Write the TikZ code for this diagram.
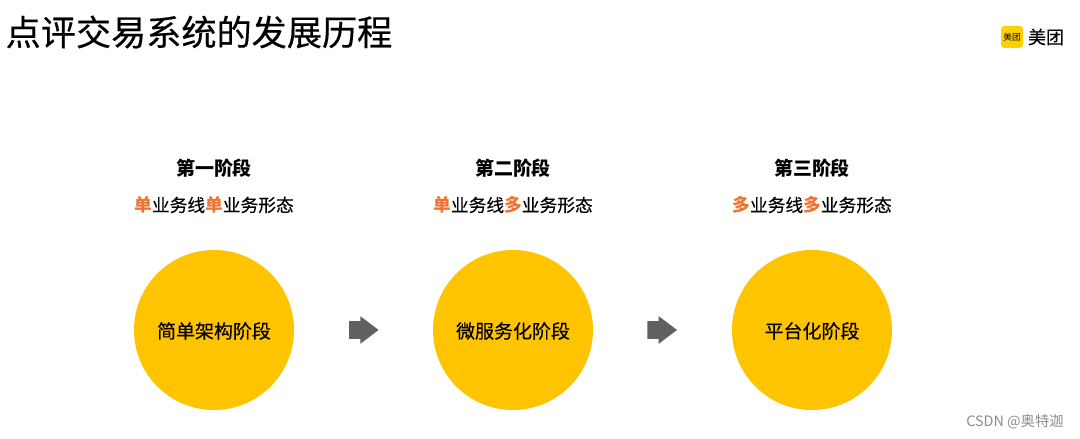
\documentclass[tikz,border=0pt]{standalone}
\usepackage{fontspec}
\setmainfont{Noto Sans CJK SC}
\newfontface\medfont[FakeBold=0.35]{Noto Sans CJK SC}
\usepackage{tikz}
\usetikzlibrary{shapes.arrows}
\definecolor{stageyellow}{RGB}{255,196,0}
\definecolor{logoyellow}{RGB}{255,208,0}
\definecolor{accentorange}{RGB}{240,115,50}
\definecolor{arrowgray}{RGB}{96,96,96}
\newcommand{\hl}[1]{{\bfseries\color{accentorange}#1}}
\tikzset{
    stagecircle/.style={circle, fill=stageyellow, minimum size=4cm, inner sep=0pt},
    stagelabel/.style={font=\fontsize{13.5pt}{16pt}\selectfont\medfont},
    stagetitle/.style={font=\fontsize{13.5pt}{16pt}\selectfont\bfseries},
    stagesub/.style={font=\fontsize{12.6pt}{15pt}\selectfont},
    stagearrow/.style={single arrow, fill=arrowgray, minimum height=0.74cm, minimum width=0pt, inner xsep=0pt, inner ysep=0.2125cm, single arrow head extend=0.125cm, single arrow tip angle=74}
}

\begin{document}
\begin{tikzpicture}
    \useasboundingbox (0,0) rectangle (27,10.975);
    \fill[white] (0,0) rectangle (27,10.975);

    \node[font=\fontsize{25pt}{28pt}\selectfont\medfont] (title) at (4.975,10.175) {点评交易系统的发展历程};

    \node[fill=logoyellow, rounded corners=2.5pt, minimum size=0.55cm, inner sep=0pt, font=\fontsize{6.2pt}{7pt}\selectfont] (logoicon) at (25.3,10.05) {美团};
    \node[font=\fontsize{12.8pt}{14pt}\selectfont\medfont] (logotext) at (26.15,10.05) {美团};

    \node[stagetitle] (titleone) at (5.35,6.775) {第一阶段};
    \node[stagesub] (subone) at (5.35,5.85) {\hl{单}{\medfont 业务线}\hl{单}{\medfont 业务形态}};
    \node[stagecircle] (circleone) at (5.35,2.725) {};
    \node[stagelabel] (labelone) at (5.35,2.7) {简单架构阶段};

    \node[stagetitle] (titletwo) at (12.825,6.775) {第二阶段};
    \node[stagesub] (subtwo) at (12.825,5.85) {\hl{单}{\medfont 业务线}\hl{多}{\medfont 业务形态}};
    \node[stagecircle] (circletwo) at (12.825,2.725) {};
    \node[stagelabel] (labeltwo) at (12.825,2.7) {微服务化阶段};

    \node[stagetitle] (titlethree) at (20.3,6.775) {第三阶段};
    \node[stagesub] (subthree) at (20.3,5.85) {\hl{多}{\medfont 业务线}\hl{多}{\medfont 业务形态}};
    \node[stagecircle] (circlethree) at (20.3,2.725) {};
    \node[stagelabel] (labelthree) at (20.3,2.7) {平台化阶段};

    \node[stagearrow] (arrowone) at (8.95,2.725) {};
    \node[stagearrow] (arrowtwo) at (16.41,2.725) {};

    \node[text=black!45, font=\fontsize{10.2pt}{12pt}\selectfont] (mark) at (25.375,0.425) {CSDN @奥特迦};
\end{tikzpicture}
\end{document}
